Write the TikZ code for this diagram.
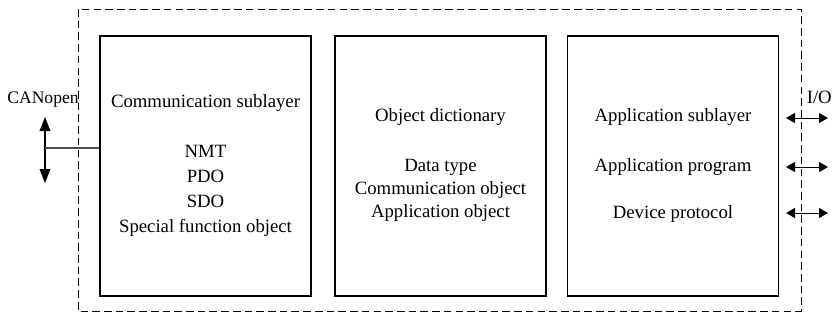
\documentclass[tikz,border=0pt]{standalone}
\usepackage{fontspec}
\setmainfont{Liberation Serif}
\usetikzlibrary{arrows.meta}

\begin{document}
\begin{tikzpicture}[x=0.03cm,y=-0.03cm,
    layerbox/.style={draw,line width=0.9pt,minimum width=6.33cm,minimum height=7.8cm,inner sep=0pt},
    boxtext/.style={align=center,font=\fontsize{16}{21.3}\selectfont,inner sep=0pt},
    ioarrow/.style={{Triangle[length=0.27cm,width=0.3cm]}-{Triangle[length=0.27cm,width=0.3cm]},line width=0.8pt}]

        \useasboundingbox (0,0) rectangle (833,322);

        % outer device boundary
        \draw[dash pattern=on 6.5pt off 3.5pt,line width=0.8pt] (78,9) rectangle (801,311);

        \begin{scope}[every node/.style={layerbox}]
          \node (comm) at (205.5,166) {};
          \node (dict) at (440.5,166) {};
          \node (app)  at (673,166)   {};
        \end{scope}

        \begin{scope}[every node/.style={boxtext}]
          \node (commtitle) at (205.5,103) {Communication sublayer};
          \node (commlist)  at (205.5,191) {NMT\\PDO\\SDO\\Special function object};
          \node (dicttitle) at (440.5,117) {Object dictionary};
          \node[font=\fontsize{16}{19.6}\selectfont] (dictlist) at (440.5,190) {Data type\\Communication object\\Application object};
          \node (apptitle)  at (673,117) {Application sublayer};
          \node (appprog)   at (673,167) {Application program};
          \node (appdev)    at (673,214) {Device protocol};
          \node[font=\fontsize{15}{18}\selectfont] (canopen) at (43,100) {CANopen};
          \node[anchor=east] (io) at (832,97) {I/O};
        \end{scope}

        % CANopen bus
        \coordinate (canup)   at (45,117);
        \coordinate (candown) at (45,183);
        \coordinate (canmid)  at (45,148);
        \draw[{Triangle[length=0.42cm,width=0.32cm]}-{Triangle[length=0.42cm,width=0.32cm]},line width=1.2pt] (canup) -- (candown);
        \draw[gray!60!black,line width=1pt] (canmid) -- (comm.west |- canmid);

        % I/O lines
        \foreach \name/\y in {iosub/118,ioprog/167,iodev/213} {
          \coordinate (\name a) at (786,\y);
          \coordinate (\name b) at (828,\y);
          \draw[ioarrow] (\name a) -- (\name b);
        }

      \end{tikzpicture}
\end{document}
